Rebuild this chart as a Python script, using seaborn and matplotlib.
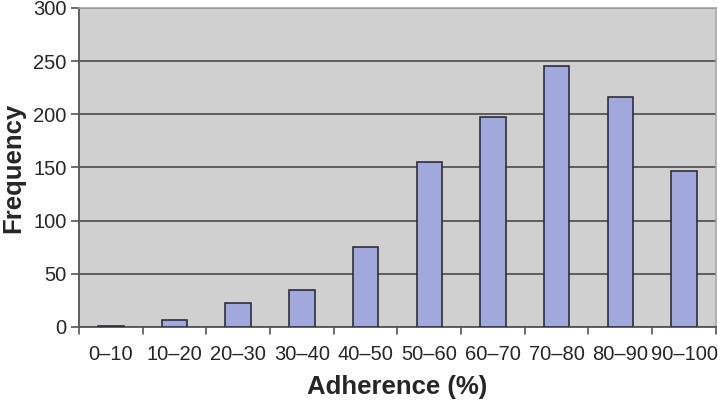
import matplotlib
matplotlib.use("Agg")
import matplotlib.pyplot as plt
import seaborn as sns
import pandas as pd

categories = ["0\u201310", "10\u201320", "20\u201330", "30\u201340", "40\u201350",
              "50\u201360", "60\u201370", "70\u201380", "80\u201390", "90\u2013100"]
frequency = [1, 6, 22, 35, 75, 155, 197, 245, 216, 147]
y_ticks = [0, 50, 100, 150, 200, 250, 300]

sns.set_style("white")
plt.rcParams['font.family'] = ['Liberation Sans', 'DejaVu Sans']

df = pd.DataFrame({"Adherence": categories, "Frequency": frequency})

fig = plt.figure(figsize=(7.18, 4.0), dpi=100)
ax = fig.add_axes([0.110, 0.183, 0.887, 0.797])
ax.set_facecolor("#d0d0d0")

sns.barplot(data=df, x="Adherence", y="Frequency", ax=ax, color="#a0a8dc",
            saturation=1, width=0.4, edgecolor="#2e2e3a", linewidth=1.2, zorder=3)

ax.set_ylim(0, 300)
ax.set_xlim(-0.5, len(categories) - 0.5)
ax.set_yticks(y_ticks)
ax.yaxis.grid(True, color="#4a4a4a", linewidth=1.2, zorder=1)
ax.set_axisbelow(True)

# tick marks at category boundaries
ax.set_xticks(range(len(categories)))
ax.set_xticklabels(categories, fontsize=14.5)
ax.tick_params(axis="x", length=0, pad=13)
for b in [i - 0.5 for i in range(len(categories) + 1)]:
    ax.plot([b, b], [0, -0.022], transform=ax.get_xaxis_transform(),
            color="#555555", lw=1.2, clip_on=False)

ax.tick_params(axis="y", labelsize=14.5, length=6, width=1.2, color="#555555", left=True, pad=3)

for s in ["left", "bottom"]:
    ax.spines[s].set_color("#555555")
    ax.spines[s].set_linewidth(1.3)
for s in ["top", "right"]:
    ax.spines[s].set_color("#a8a8a8")
    ax.spines[s].set_linewidth(1.2)

ax.set_xlabel("Adherence (%)", fontsize=18.5, fontweight="bold", labelpad=8)
ax.set_ylabel("Frequency", fontsize=18.5, fontweight="bold")
ax.yaxis.set_label_coords(-0.085, 0.5)

fig.savefig("out.png", dpi=100)
